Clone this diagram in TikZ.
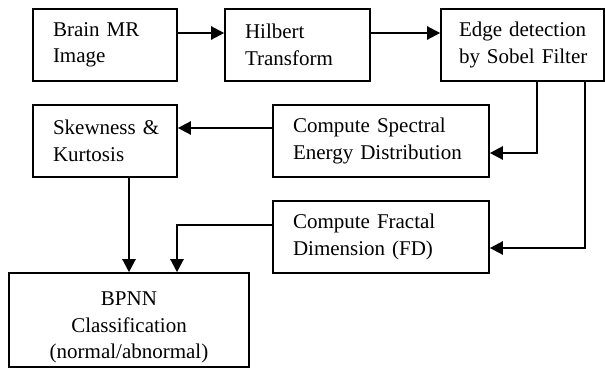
\documentclass[tikz,border=0pt]{standalone}
\usepackage{fontspec}
\setmainfont{Liberation Serif}
\usetikzlibrary{arrows.meta}
\tikzset{
  proc/.style={draw, line width=1.6pt, minimum height=72pt, inner xsep=20pt, inner ysep=0pt, align=left, text width=#1,
    execute at begin node={\hyphenpenalty=10000\exhyphenpenalty=10000}},
  flow/.style={line width=2.3pt, -{Triangle[length=13pt,width=13pt]}}
}
\begin{document}
\begin{tikzpicture}[x=1pt,y=-1pt,font=\fontsize{21pt}{26.5pt}\selectfont]
\useasboundingbox (0,0) rectangle (605,369);
\node[proc=104pt] (brain) at (105,45) {Brain~MR\\Image};
\node[proc=105pt] (hilbert) at (297.5,45) {Hilbert\\Transform};
\node[proc=127pt, inner xsep=18pt] (sobel) at (522.5,45) {Edge~detection\\by~Sobel~Filter};
\node[proc=104pt] (skew) at (105,141) {Skewness~\&\\Kurtosis};
\node[proc=176pt] (sed) at (381,141) {Compute~Spectral\\Energy~Distribution};
\node[proc=176pt] (fd) at (381,237) {Compute~Fractal\\Dimension~(FD)};
\node[proc=200pt, align=center, minimum height=94pt, text depth=42pt] (bpnn) at (129,320) {BPNN\\Classification\\(normal/abnormal)};
\draw[flow] ([yshift=12pt]brain.east) -- ([yshift=12pt]hilbert.west);
\draw[flow] ([yshift=12pt]hilbert.east) -- ([yshift=12pt]sobel.west);
\draw[flow] ([xshift=14.5pt]sobel.south) |- ([yshift=-12pt]sed.east);
\draw[flow] ([xshift=62.5pt]sobel.south) |- ([yshift=-11pt]fd.east);
\draw[flow] ([yshift=13pt]sed.west) -- ([yshift=13pt]skew.east);
\draw[flow] (skew.south -| bpnn.north) -- (bpnn.north);
\draw[flow] ([yshift=12pt]fd.west) -| ([xshift=48pt]bpnn.north);
\end{tikzpicture}
\end{document}
